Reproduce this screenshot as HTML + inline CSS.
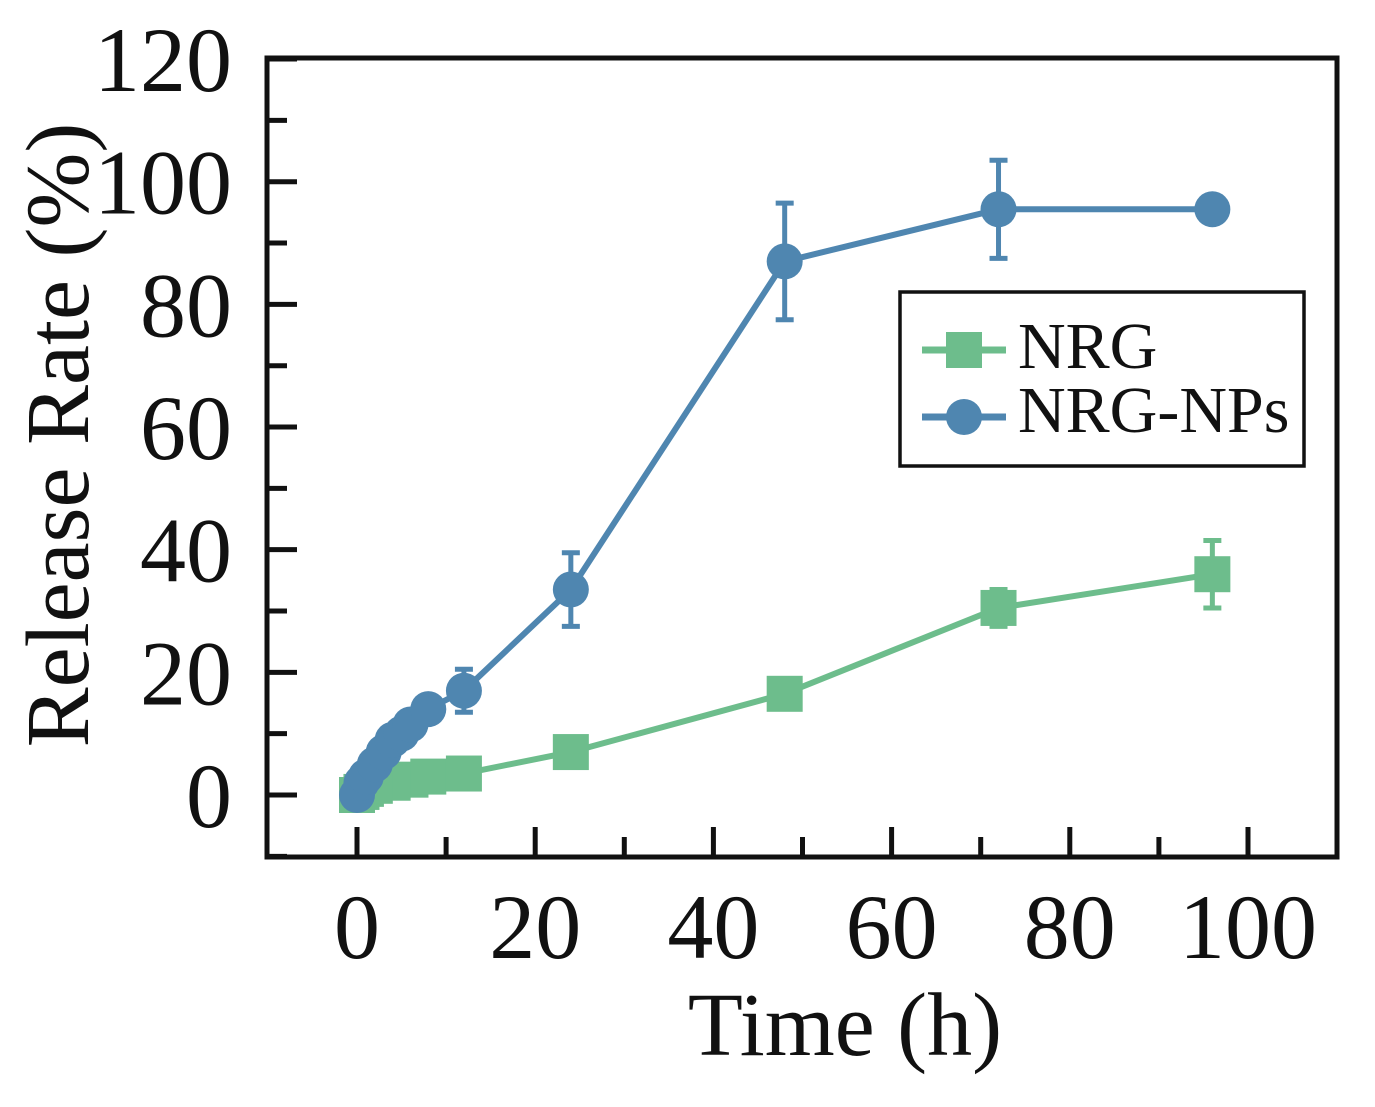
<!DOCTYPE html>
<html><head><meta charset="utf-8"><style>
html,body{margin:0;padding:0;background:#fff;}
svg text{font-family:"Liberation Serif",serif;fill:#111;}
</style></head><body>
<svg id="chart" width="1375" height="1102" viewBox="0 0 1375 1102" xmlns="http://www.w3.org/2000/svg">
<g id="axes"></g>
<g id="series"></g>
<g>
<rect x="900" y="292" width="404" height="174" fill="#fff" stroke="#111" stroke-width="3.5"/>
<g>
<line x1="922" y1="350" x2="1006" y2="350" stroke="#6dbd8c" stroke-width="7"/>
<rect x="946" y="332" width="36" height="36" fill="#6dbd8c"/>
<text x="1018" y="368" font-size="66">NRG</text></g>
<g>
<line x1="922" y1="417" x2="1006" y2="417" stroke="#4f86b0" stroke-width="7"/>
<circle cx="964" cy="417" r="18" fill="#4f86b0"/>
<text x="1018" y="432" font-size="66">NRG-NPs</text></g>
</g>
<text x="845" y="1055" font-size="90" text-anchor="middle">Time (h)</text>
<text transform="translate(88,435) rotate(-90)" font-size="90" text-anchor="middle">Release Rate (%)</text>
</svg>
<script>
const xTicks=[0,20,40,60,80,100];
const yTicks=[0,20,40,60,80,100,120];
const nrgTime=[0,0.5,1,2,4,6,8,12,24,48,72,96];
const nrgValues=[0,0.5,1,1.5,2,2.5,3,3.5,7,16.5,30.5,36];
const nrgErr=[0,0,0,0,0,0,0,0,0,0,3,5.5];
const npsTime=[0,0.5,1,2,3,4,5,6,8,12,24,48,72,96];
const npsValues=[0,2,3,5,7,9,10,11.5,14,17,33.5,87,95.5,95.5];
const npsErr=[0,0,0,0,0,2,0,0,0,3.5,6,9.5,8,0];
const NS='http://www.w3.org/2000/svg';
const X0=267,X1=1337,Y0=58,Y1=857;
function sx(v){return 357+v*8.91;}
function sy(v){return 795-v*6.133;}
function mk(tag,attrs,parent){const e=document.createElementNS(NS,tag);for(const k in attrs)e.setAttribute(k,attrs[k]);parent.appendChild(e);return e;}
const axes=document.getElementById('axes');
const frame=mk('rect',{x:X0,y:Y0,width:X1-X0,height:Y1-Y0,fill:'none',stroke:'#111','stroke-width':5},axes);


for(let v=0;v<=100;v+=10){const big=v%20===0;const t=mk('line',{x1:sx(v),x2:sx(v),y1:Y1,y2:Y1-(big?30:20),stroke:'#111','stroke-width':5},axes);

}
for(let v=-10;v<=120;v+=10){const big=v%20===0;const t=mk('line',{x1:X0,x2:X0+(big?30:20),y1:sy(v),y2:sy(v),stroke:'#111','stroke-width':5},axes);

}
xTicks.forEach(v=>{const t=mk('text',{x:sx(v),y:958,'font-size':92,'text-anchor':'middle'},axes);t.textContent=v;

});
yTicks.forEach(v=>{const t=mk('text',{x:232,y:sy(v)+32,'font-size':92,'text-anchor':'end'},axes);t.textContent=v;

});
const sg=document.getElementById('series');
function drawSeries(ts,vs,es,color,shape,name){
const g=mk('g',{},sg);


const pl=mk('polyline',{points:ts.map((t,i)=>sx(t)+','+sy(vs[i])).join(' '),fill:'none',stroke:color,'stroke-width':6},g);


ts.forEach((t,i)=>{const x=sx(t),y=sy(vs[i]);
if(es[i]>0){const e=es[i];
const eb=mk('path',{d:`M${x},${sy(vs[i]+e)}V${sy(vs[i]-e)}M${x-9},${sy(vs[i]+e)}h18M${x-9},${sy(vs[i]-e)}h18`,stroke:color,'stroke-width':5,fill:'none'},g);

}
let m;
if(shape==='sq')m=mk('rect',{x:x-18,y:y-18,width:36,height:36,fill:color},g);
else m=mk('circle',{cx:x,cy:y,r:18,fill:color},g);

});
}
drawSeries(nrgTime,nrgValues,nrgErr,'#6dbd8c','sq','nrg');
drawSeries(npsTime,npsValues,npsErr,'#4f86b0','ci','nrg-nps');
</script>
</body></html>
